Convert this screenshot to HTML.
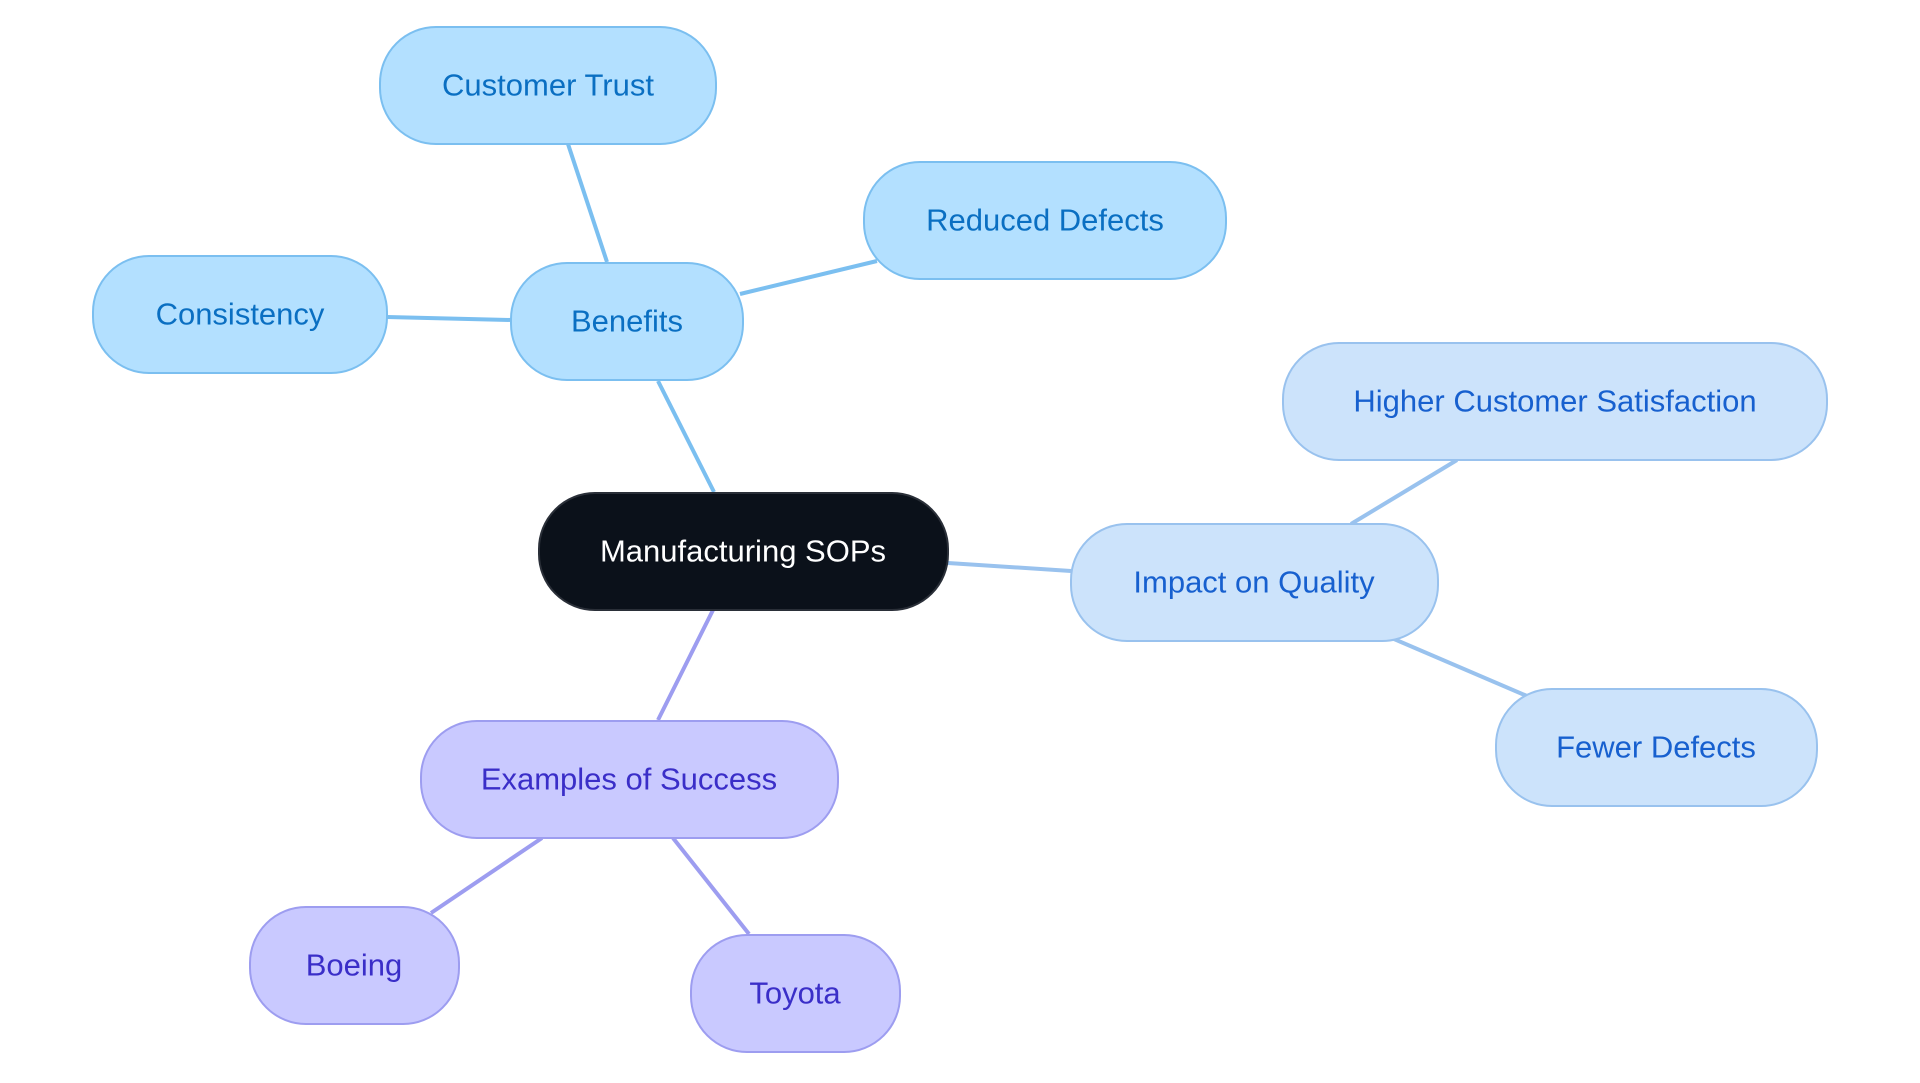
<!DOCTYPE html>
<html><head><meta charset="utf-8"><style>
html,body{margin:0;padding:0;background:#fff;}
svg{display:block}
text{font-family:"Liberation Sans",sans-serif;font-size:31px;text-anchor:middle;dominant-baseline:central}
</style></head><body>
<svg width="1920" height="1083" viewBox="0 0 1920 1083">
<g stroke-width="4" fill="none">
<line x1="607" y1="262" x2="568" y2="144" stroke="#7bbff0"/>
<line x1="740" y1="294" x2="877" y2="261" stroke="#7bbff0"/>
<line x1="511" y1="320" x2="387" y2="317" stroke="#7bbff0"/>
<line x1="658" y1="381" x2="714" y2="492" stroke="#7bbff0"/>
<line x1="948" y1="563" x2="1071" y2="571" stroke="#99c2ee"/>
<line x1="1351" y1="524" x2="1457" y2="460" stroke="#99c2ee"/>
<line x1="1394" y1="639" x2="1527" y2="696" stroke="#99c2ee"/>
<line x1="713" y1="610" x2="658" y2="720" stroke="#9d9df0"/>
<line x1="542" y1="838" x2="431" y2="913" stroke="#9d9df0"/>
<line x1="673" y1="838" x2="749" y2="934" stroke="#9d9df0"/>
</g>
<g stroke-width="2">
<rect x="380" y="27" width="336" height="117" rx="56" fill="#b3e0ff" stroke="#7bbff0"/>
<rect x="864" y="162" width="362" height="117" rx="56" fill="#b3e0ff" stroke="#7bbff0"/>
<rect x="93" y="256" width="294" height="117" rx="56" fill="#b3e0ff" stroke="#7bbff0"/>
<rect x="511" y="263" width="232" height="117" rx="56" fill="#b3e0ff" stroke="#7bbff0"/>
<rect x="1283" y="343" width="544" height="117" rx="56" fill="#cce3fb" stroke="#99c2ee"/>
<rect x="539" y="493" width="409" height="117" rx="56" fill="#0b111a" stroke="#2a2f38"/>
<rect x="1071" y="524" width="367" height="117" rx="56" fill="#cce3fb" stroke="#99c2ee"/>
<rect x="1496" y="689" width="321" height="117" rx="56" fill="#cce3fb" stroke="#99c2ee"/>
<rect x="421" y="721" width="417" height="117" rx="56" fill="#c9c9ff" stroke="#9d9df0"/>
<rect x="250" y="907" width="209" height="117" rx="56" fill="#c9c9ff" stroke="#9d9df0"/>
<rect x="691" y="935" width="209" height="117" rx="56" fill="#c9c9ff" stroke="#9d9df0"/>
</g>
<g fill="#0a6fc2">
<text x="548" y="85">Customer Trust</text>
<text x="1045" y="220">Reduced Defects</text>
<text x="240" y="314">Consistency</text>
<text x="627" y="321">Benefits</text>
</g>
<g fill="#1760cf">
<text x="1555" y="401">Higher Customer Satisfaction</text>
<text x="1254" y="582">Impact on Quality</text>
<text x="1656" y="747">Fewer Defects</text>
</g>
<text x="743" y="551" fill="#ffffff">Manufacturing SOPs</text>
<g fill="#3a2ec8">
<text x="629" y="779">Examples of Success</text>
<text x="354" y="965">Boeing</text>
<text x="795" y="993">Toyota</text>
</g>
</svg>
</body></html>
